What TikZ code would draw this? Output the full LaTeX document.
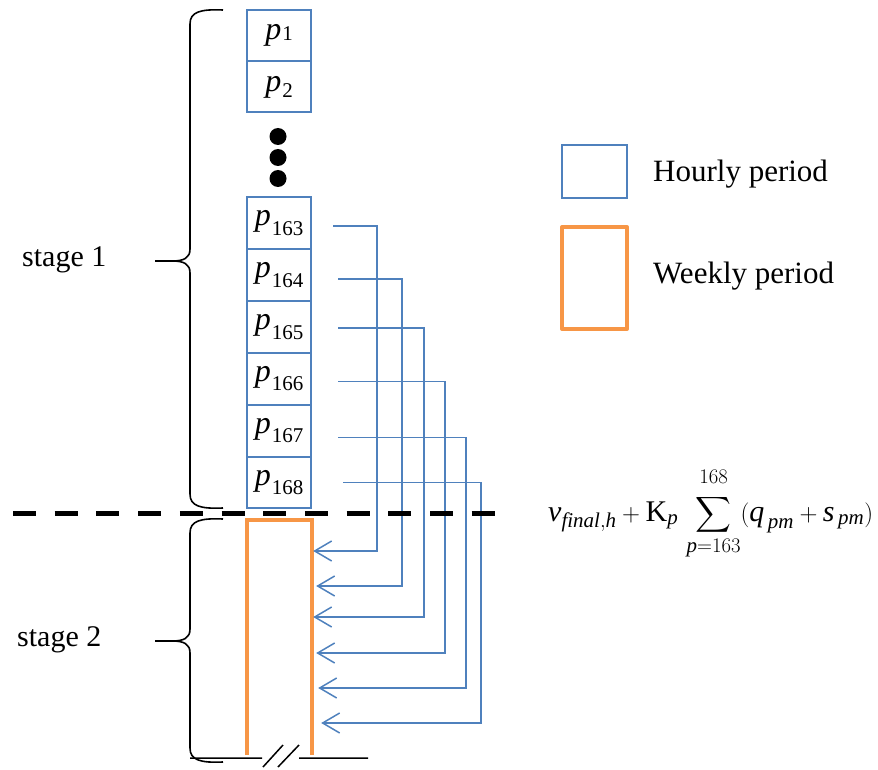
\documentclass[tikz,border=0pt]{standalone}
\usepackage{amsmath}
\usepackage{fontspec}
\setmainfont{Liberation Serif}
\usetikzlibrary{arrows.meta,calc}
\definecolor{hourblue}{HTML}{4F81BD}
\definecolor{weekorange}{HTML}{F79646}

% period label: italic p with a lowered subscript
\newcommand\plab[2][0.3em]{\textit{p}\kern1pt\raisebox{-#1}{\fontsize{21}{21}\selectfont #2}}
% curly brace: top y, tip y, bottom y
\newcommand\stagebrace[3]{%
  \draw[bracepen] (223,#1) .. controls (200,#1-1) and (190,#1+2) .. (190,#1+14)
    -- (190,#2-12) .. controls (190,#2-3) and (184,#2) .. (172,#2) -- (155,#2)
    (172,#2) .. controls (184,#2) and (190,#2+3) .. (190,#2+12)
    -- (190,#3-14) .. controls (190,#3-2) and (200,#3+1) .. (223,#3);}

\begin{document}
\begin{tikzpicture}[x=1pt,y=-1pt,
  hbox/.style={draw=hourblue,line width=2pt,minimum width=64pt,minimum height=51.9pt,
    inner sep=0pt,font=\fontsize{32}{34}\selectfont},
  flow/.style={draw=hourblue,line width=1.5pt,
    -{Straight Barb[length=17pt,width=20pt]}},
  bracepen/.style={draw=black,line width=1.6pt},
  dotnode/.style={circle,fill=black,minimum size=17pt,inner sep=0pt},
  label/.style={anchor=base west,inner sep=0pt,font=\fontsize{30}{36}\selectfont},
  legtext/.style={anchor=base west,inner sep=0pt,font=\fontsize{31}{36}\selectfont}]
\useasboundingbox (0,0) rectangle (878,770);

% hourly periods of stage 1
\node[hbox,minimum height=51pt] (p1) at (279,35.5) {\plab[0.02em]{1}};
\node[hbox,minimum height=51pt] (p2) at (279,87) {\plab[0.2em]{2}};
\node[dotnode] (d1) at (278,136.5) {};
\node[dotnode] (d2) at (278,157.5) {};
\node[dotnode] (d3) at (278,178.5) {};
\foreach \n [count=\k from 0] in {163,164,165,166,167,168}
  \node[hbox] (p\n) at (279,223+51.9*\k) {\plab{\n}};

% weekly period of stage 2 (open at the bottom)
\node[minimum width=65pt,minimum height=235pt,inner sep=0pt] (week) at (279.5,637.5) {};
\draw[weekorange,line width=4pt]
  (week.south west) -- (week.north west) -- (week.north east) -- (week.south east);

% links from the last hourly periods to the weekly period
\foreach \n/\dx/\dy/\vx/\vy/\tx in {163/21/3/377/551/313, 164/26/4/402/586/316,
    165/26/1/424/617/313, 166/26/3/445/653/316, 167/26/7/466/688/318,
    168/31/0/481/723/321} {
  \coordinate (v\n) at (\vx,\vy);
  \draw[flow] ($(p\n.east)+(\dx,\dy)$) -| (v\n) -- ($(week.east |- v\n)+(\tx-312,0)$);
}

% stage boundary
\coordinate (cutL) at (13,513);
\coordinate (cutR) at (497,513);
\draw[black,line width=5pt,dash pattern=on 23pt off 18.7pt] (cutL) -- (cutR);

% braces and stage names
\stagebrace{10}{261}{508}
\stagebrace{519}{641}{762}
\node[label] (s1) at (22,266) {stage 1};
\node[label] (s2) at (17,646) {stage 2};

% broken baseline under stage 2
\coordinate (b1) at (190,758);
\coordinate (b2) at (262,758);
\coordinate (b3) at (299,758);
\coordinate (b4) at (368,758);
\draw[black,line width=1.5pt] (b1) -- (b2) (b3) -- (b4)
  (263,767) -- (283,745) (278,767) -- (299,745);

% final-stage expression
\node[anchor=base west,inner sep=0pt,font=\fontsize{30}{36}\selectfont] (obj) at (548,521)
  {$\displaystyle \textit{v}_{\textit{final},\textit{h}}+\mathrm{K}_{\textit{p}}\,
   \sum_{\textit{p}=163}^{168\rule[-9pt]{0pt}{9pt}}(\textit{q}_{\,\textit{pm}}+\textit{s}_{\,\textit{pm}})$};

% legend
\node[draw=hourblue,line width=2.5pt,minimum width=65pt,minimum height=53pt,inner sep=0pt]
  (lh) at (594.5,171.5) {};
\node[draw=weekorange,line width=4pt,line join=round,minimum width=65pt,
  minimum height=102pt,inner sep=0pt] (lw) at (594.5,278) {};
\node[legtext] (th) at (653,182) {Hourly period};
\node[legtext] (tw) at (653,283) {Weekly period};
\end{tikzpicture}
\end{document}
